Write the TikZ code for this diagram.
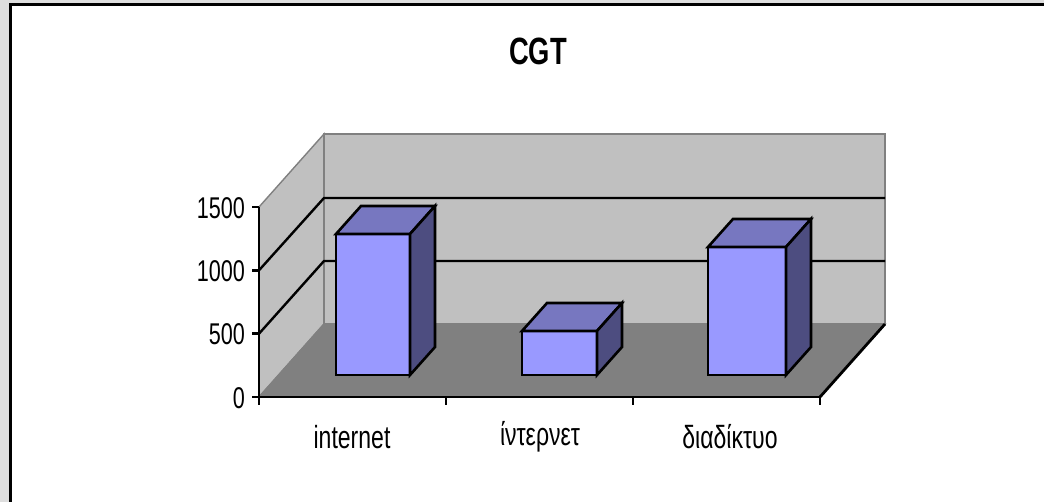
\documentclass[tikz,border=0pt]{standalone}
\usepackage{fontspec}
\setmainfont{Liberation Sans}
\newfontfamily\chartfont[FakeStretch=0.72]{Liberation Sans}
\definecolor{pagegray}{HTML}{DEDEDE}
\definecolor{wallgray}{HTML}{C0C0C0}
\definecolor{floorgray}{HTML}{808080}
\definecolor{edgegray}{HTML}{808080}
\definecolor{barfront}{HTML}{9999FF}
\definecolor{bartop}{HTML}{7777C0}
\definecolor{barside}{HTML}{4D4D80}

% one 3-D column: left x, right x, top y, base y (front face); fixed depth offset
\newcommand\chartbar[4]{%
  \filldraw[barface, fill=barfront] (#1,#4) rectangle (#2,#3);
  \filldraw[barface, fill=bartop] (#1,#3) -- ++(25,-28) -- ($(#2,#3)+(25,-28)$) -- (#2,#3) -- cycle;
  \filldraw[barface, fill=barside] (#2,#3) -- ++(25,-28) -- ($(#2,#4)+(25,-28)$) -- (#2,#4) -- cycle;
}

\begin{document}
\begin{tikzpicture}[x=1pt,y=-1pt,
  barface/.style={draw=black, line width=2.6pt, line join=miter},
  gridline/.style={draw=black, line width=2.4pt},
  walledge/.style={draw=edgegray, line width=1.4pt},
  axisline/.style={draw=black, line width=2.8pt},
  numlab/.style={anchor=east, inner sep=0pt, font=\chartfont\fontsize{30}{36}\selectfont},
  catlab/.style={inner sep=0pt, font=\chartfont\fontsize{32}{38}\selectfont},
  charttitle/.style={inner sep=0pt, font=\chartfont\bfseries\fontsize{38}{44}\selectfont}]
\usetikzlibrary{calc}
\useasboundingbox (0,0) rectangle (1044,502);
\clip (0,0) rectangle (1044,502);

% page and chart frame
\fill[pagegray] (0,0) rectangle (1044,502);
\draw[line width=3pt, fill=white] (10,5) rectangle (1070,530);

% walls and floor
\filldraw[walledge, fill=wallgray] (259,397) -- (259,207) -- (324,134) -- (324,324) -- cycle;
\filldraw[walledge, fill=wallgray] (324,134) rectangle (885,324);
\filldraw[walledge, fill=floorgray] (259,397) -- (324,324) -- (885,324) -- (820,397) -- cycle;

% gridlines at 500 and 1000
\draw[gridline] (259,333.7) -- (324,261) -- (885,261);
\draw[gridline] (259,270.3) -- (324,198) -- (885,198);

% floor front-right edge and axes
\draw[axisline] (820,397) -- (885,324);
\draw[axisline] (259,207) -- (259,397) -- (820,397);
\foreach \y in {207,270.3,333.7,397} \draw[axisline] (252,\y) -- (259,\y);
\foreach \x in {259,446,633,820} \draw[axisline] (\x,397) -- (\x,405);

% columns
\chartbar{336}{410}{234}{375}
\chartbar{522}{597}{331}{375}
\chartbar{708}{786}{247}{375}

% value labels
\node[numlab] (v1500) at (245,208) {1500};
\node[numlab] (v1000) at (245,271) {1000};
\node[numlab] (v500)  at (245,334) {500};
\node[numlab] (v0)    at (245,398) {0};

% category labels
\node[catlab] (c1) at (352,437) {internet};
\node[catlab] (c2) at (540,437) {ίντερνετ};
\node[catlab] (c3) at (730,437) {διαδίκτυο};

% title
\node[charttitle] (title) at (538,51) {CGT};
\end{tikzpicture}
\end{document}
